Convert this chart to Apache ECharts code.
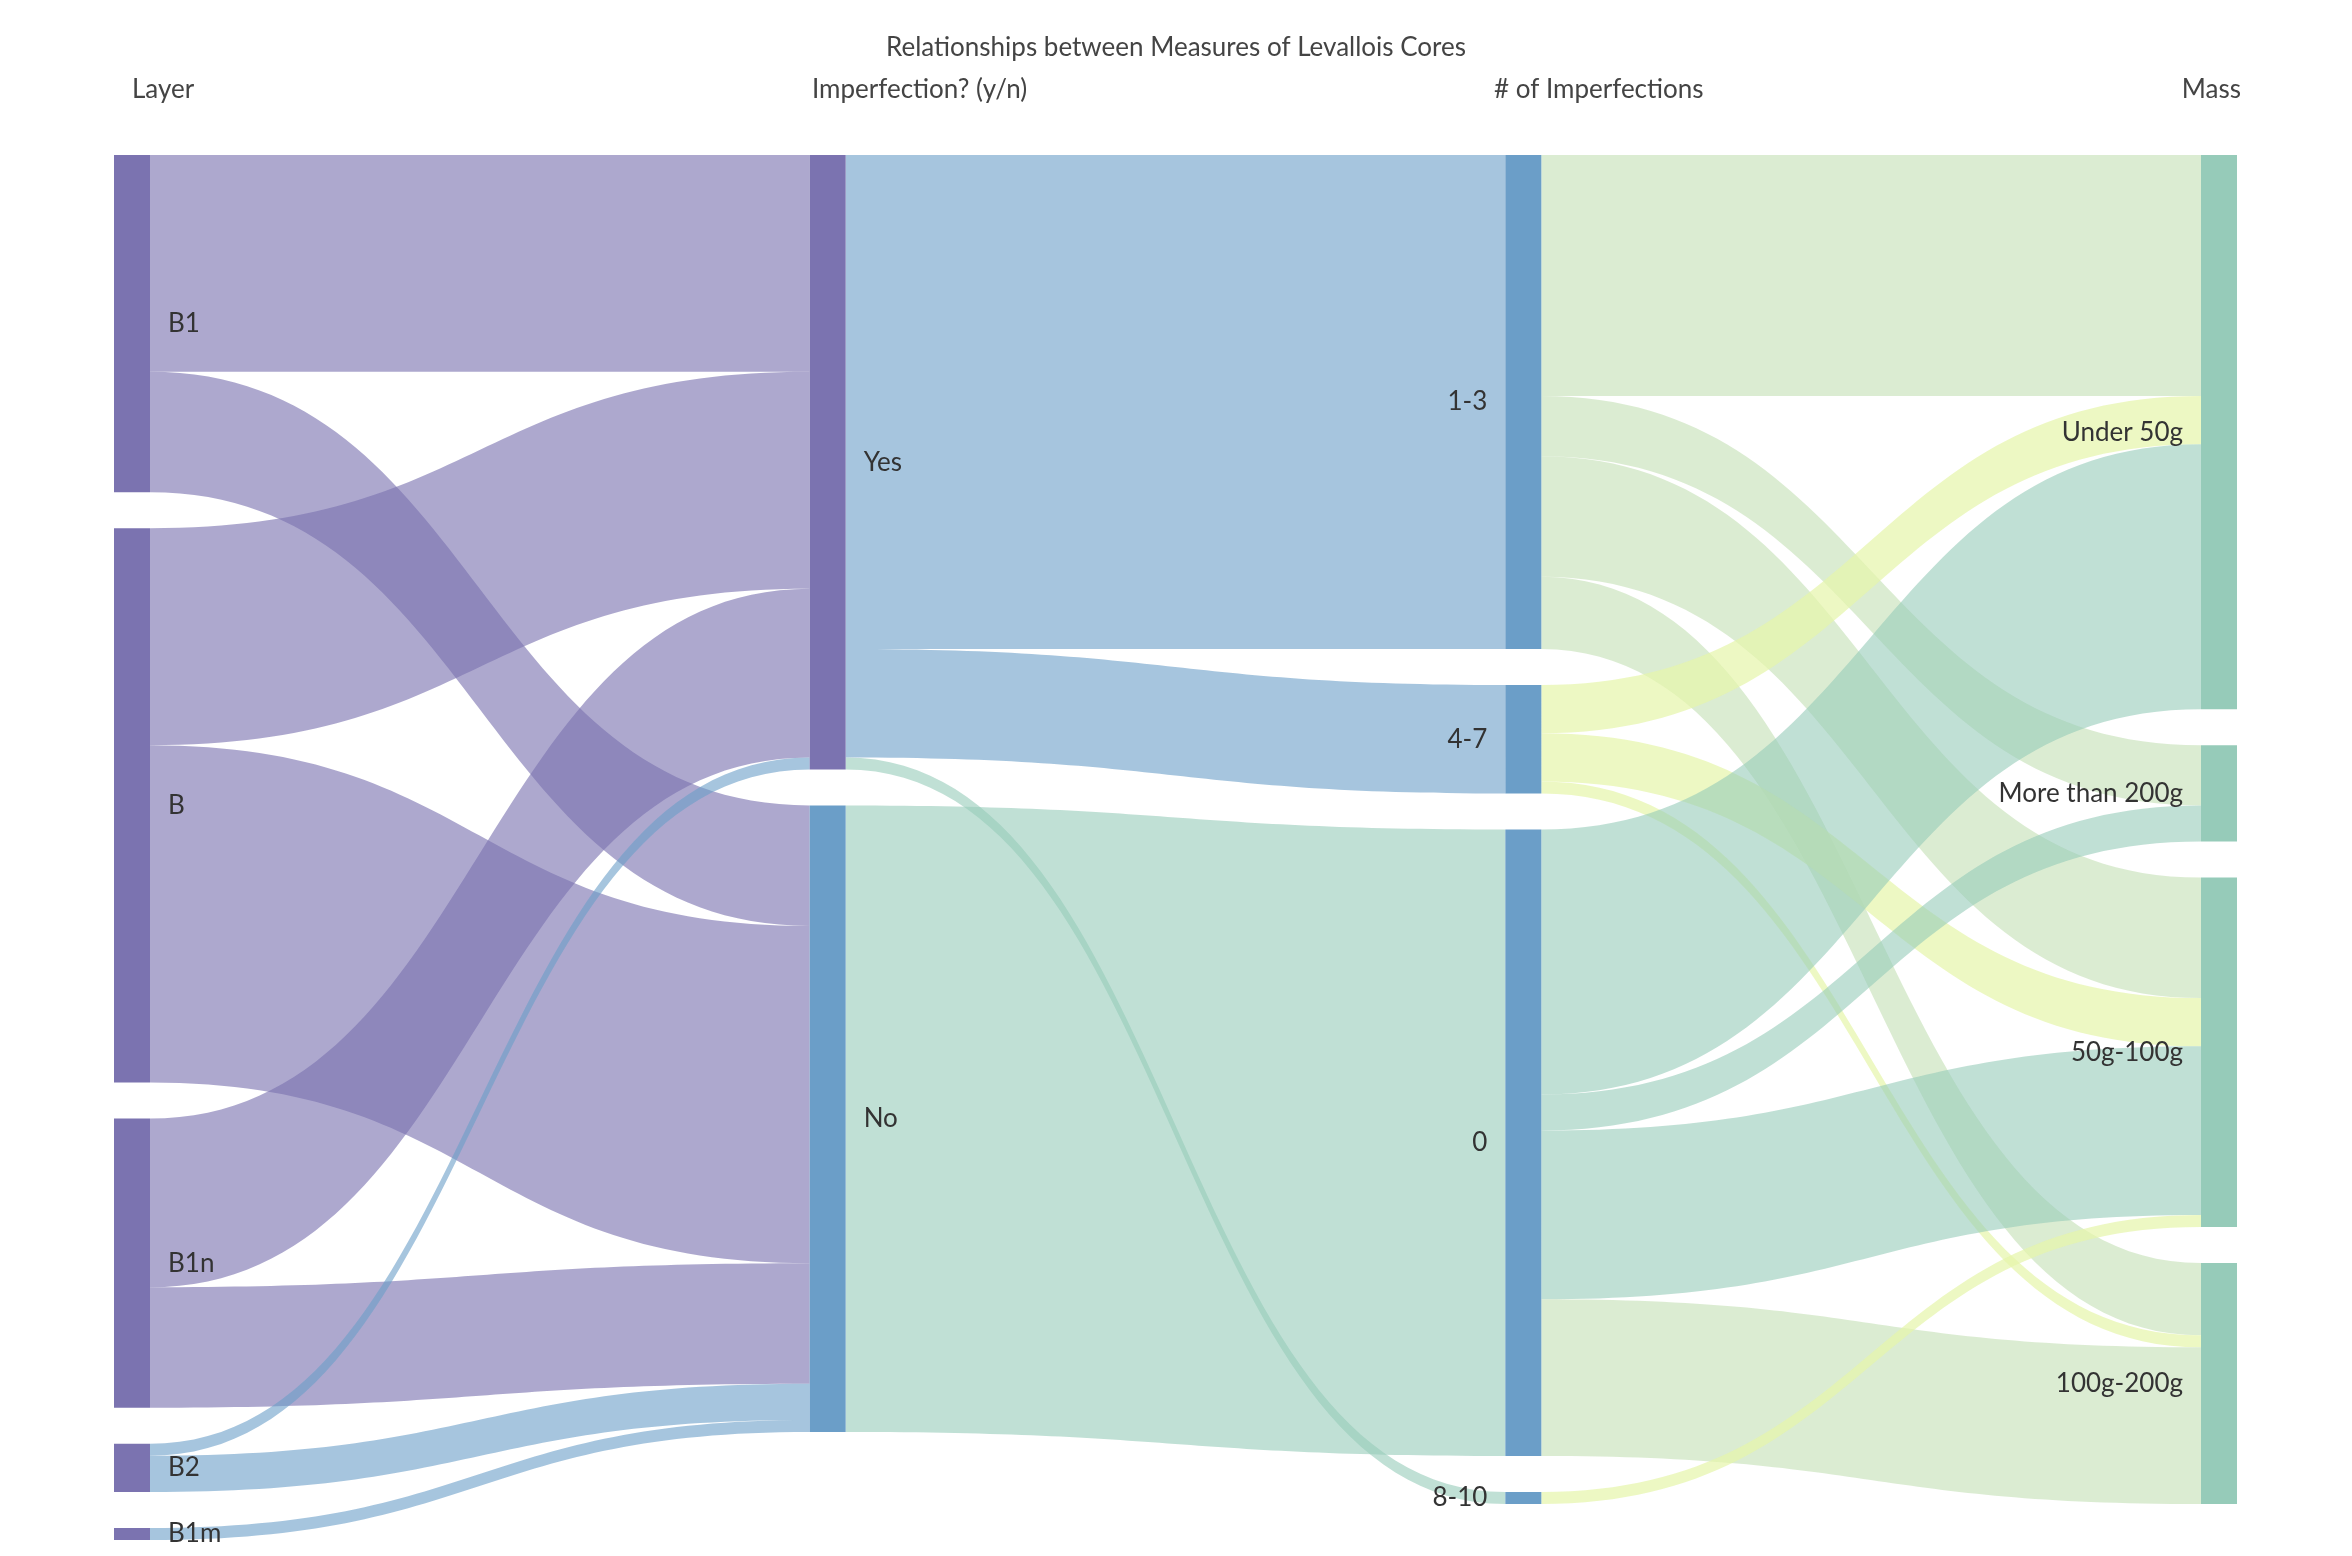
<!DOCTYPE html>
<html>
<head>
<meta charset="utf-8">
<script src="https://cdn.jsdelivr.net/npm/echarts@6/dist/echarts.min.js"></script>
<style>html,body{margin:0;background:#fff}#c{width:2352px;height:1556px}</style>
</head>
<body>
<div id="c"></div>
<script>
// nodes, by column
const layers = ['B1', 'B', 'B1n', 'B2', 'B1m'];
const imperf = ['Yes', 'No'];
const counts = ['1-3', '4-7', '0', '8-10'];
const masses = ['Under 50g', 'More than 200g', '50g-100g', '100g-200g'];
const headers = ['Layer', 'Imperfection? (y/n)', '# of Imperfections', 'Mass'];

// links: [source, target, value]
const layerLinks = [
  ['B1', 'Yes', 18], ['B1', 'No', 10],
  ['B', 'Yes', 18], ['B', 'No', 28],
  ['B1n', 'Yes', 14], ['B1n', 'No', 10],
  ['B2', 'Yes', 1], ['B2', 'No', 3],
  ['B1m', 'No', 1]
];
const imperfLinks = [
  ['Yes', '1-3', 41], ['Yes', '4-7', 9], ['Yes', '8-10', 1],
  ['No', '0', 52]
];
const massLinks = [
  ['1-3', 'Under 50g', 20], ['1-3', 'More than 200g', 5], ['1-3', '50g-100g', 10], ['1-3', '100g-200g', 6],
  ['4-7', 'Under 50g', 4], ['4-7', '50g-100g', 4], ['4-7', '100g-200g', 1],
  ['0', 'Under 50g', 22], ['0', 'More than 200g', 3], ['0', '50g-100g', 14], ['0', '100g-200g', 13],
  ['8-10', '50g-100g', 1]
];

const PURPLE = 'rgba(123,115,176,0.62)';
const BLUE = 'rgba(107,158,200,0.6)';
const TEAL = 'rgba(150,203,185,0.6)';
const GREEN = 'rgba(200,226,186,0.65)';
const YELLOW = 'rgba(230,245,170,0.7)';

function linkColor(s, t) {
  if (s === 'B2' || s === 'B1m') return BLUE;
  if (layers.includes(s)) return PURPLE;
  if (s === 'Yes') return t === '8-10' ? TEAL : BLUE;
  if (s === '0' && t === '100g-200g') return GREEN;
  if (s === 'No' || s === '0') return TEAL;
  if (s === '1-3') return GREEN;
  return YELLOW;
}
function nodeColor(n) {
  if (layers.includes(n) || n === 'Yes') return '#7b73b0';
  if (masses.includes(n)) return '#96cbb9';
  return '#6b9ec8';
}

const nodes = [...layers, ...imperf, ...counts, ...masses].map(n => ({
  name: n,
  itemStyle: { color: nodeColor(n), borderWidth: 0 },
  label: { position: (counts.includes(n) || masses.includes(n)) ? 'left' : 'right' }
}));
const links = [...layerLinks, ...imperfLinks, ...massLinks].map(([s, t, v]) => ({
  source: s, target: t, value: v, lineStyle: { color: linkColor(s, t), opacity: 1 }
}));

const chart = echarts.init(document.getElementById('c'));
const headerX = [132, 812, 1494, 2241];
chart.setOption({
  animation: false,
  title: {
    text: 'Relationships between Measures of Levallois Cores',
    left: 'center', top: 30,
    textStyle: { fontFamily: 'Lato', fontWeight: 'normal', fontSize: 26, color: '#444' }
  },
  graphic: headers.map((h, i) => ({
    type: 'text', left: i === 3 ? null : headerX[i], right: i === 3 ? 2352 - headerX[i] : null, top: 77,
    style: { text: h, font: '26px Lato', fill: '#444' }
  })),
  series: [{
    type: 'sankey',
    left: 114, right: 115, top: 155, bottom: 16,
    nodeWidth: 36, nodeGap: 36,
    layoutIterations: 0,
    nodeAlign: 'justify',
    draggable: false,
    emphasis: { disabled: true },
    label: { fontFamily: 'Lato', fontSize: 26, color: '#333', distance: 18 },
    lineStyle: { curveness: 0.5 },
    data: nodes,
    links: links
  }]
});
</script>
</body>
</html>
